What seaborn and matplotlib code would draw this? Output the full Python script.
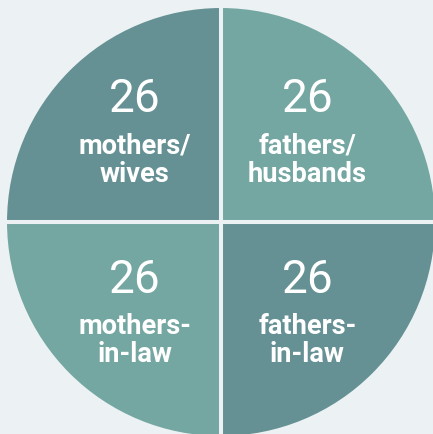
import numpy as np
import pandas as pd
import matplotlib
matplotlib.use("Agg")
import matplotlib.pyplot as plt
import seaborn as sns

# datos
grupos = ['fathers/\nhusbands', 'fathers-\nin-law', 'mothers-\nin-law', 'mothers/\nwives']
cantidades = [26, 26, 26, 26]
colores = ['#74a7a2', '#669194', '#74a7a2', '#669194']

df = pd.DataFrame({'grupo': grupos, 'cant': cantidades})

sns.set_theme(style='white')
plt.rcParams['font.family'] = ['Roboto', 'DejaVu Sans']

fondo = '#ecf2f3'
fig = plt.figure(figsize=(4.33, 4.34), dpi=100, facecolor=fondo)
ax = fig.add_axes([0, 0, 1, 1])
ax.set_facecolor(fondo)

R = 216  # radio en pixeles
wedges, _ = ax.pie(df['cant'], colors=colores, startangle=90, counterclock=False,
                   radius=1, wedgeprops=dict(edgecolor=fondo, linewidth=2.9))

# centro en (221, 222) px
ax.set_xlim(-221 / R, (433 - 221) / R)
ax.set_ylim(-(434 - 222) / R, 222 / R)
ax.set_aspect('equal')
ax.axis('off')

# textos en cada porcion
for w, n, g in zip(wedges, df['cant'], df['grupo']):
    th = np.deg2rad((w.theta1 + w.theta2) / 2)
    x, y = 0.565 * np.cos(th), 0.59 * np.sin(th)
    ax.annotate(str(n), (x, y), xytext=(0, 14), textcoords='offset points',
                ha='center', va='baseline', fontsize=33, color='white')
    l1, l2 = g.split('\n')
    ax.annotate(l1, (x, y), xytext=(0, -15.8), textcoords='offset points',
                ha='center', va='baseline', fontsize=19.6, fontweight='bold', color='white')
    ax.annotate(l2, (x, y), xytext=(0, -35.8), textcoords='offset points',
                ha='center', va='baseline', fontsize=19.6, fontweight='bold', color='white')

plt.savefig('out.png', dpi=100, facecolor=fondo)
